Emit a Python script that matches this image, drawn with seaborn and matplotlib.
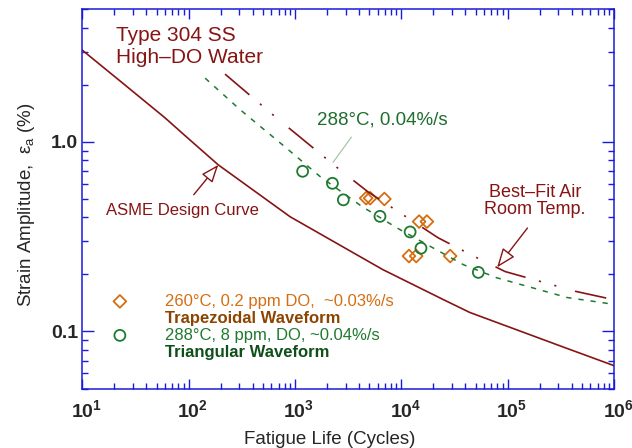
import matplotlib
matplotlib.use("Agg")
import matplotlib.pyplot as plt
import matplotlib.ticker as mticker
import matplotlib.transforms as mtransforms
from matplotlib.lines import Line2D
import seaborn as sns

# curves: fatigue life (cycles) vs strain amplitude (%)
asme_n = [10, 22.6, 60, 96, 190, 900, 6700, 25000, 44000, 3.1e5, 1e6]
asme_e = [3.05, 2.1, 1.34, 1.06, 0.757, 0.403, 0.212, 0.147, 0.126, 0.084, 0.066]

air_n = [220, 650, 2750, 4870, 12100, 22200, 51300, 94800, 4.31e5, 1e6]
air_e = [2.28, 1.36, 0.70, 0.545, 0.39, 0.312, 0.245, 0.207, 0.163, 0.147]

water_n = [143, 305, 773, 1722, 4250, 9080, 38400, 79000, 3.63e5, 1e6]
water_e = [2.17, 1.48, 0.96, 0.657, 0.457, 0.352, 0.225, 0.192, 0.151, 0.139]

# test data
trap_n = [4670, 5090, 6930, 14700, 17400, 11800, 13800, 28800]
trap_e = [0.505, 0.505, 0.50, 0.38, 0.38, 0.25, 0.25, 0.25]

tri_n = [1180, 2250, 2850, 6300, 12100, 15300, 53000]
tri_e = [0.70, 0.605, 0.495, 0.405, 0.335, 0.275, 0.205]

x_ticks = [1e1, 1e2, 1e3, 1e4, 1e5, 1e6]
x_labels = [r"$\mathbf{10^{%d}}$" % k for k in range(1, 7)]
y_ticks = [0.1, 1.0]
y_labels = ["0.1", "1.0"]

dred = "#861414"
green = "#1f7a30"
orange = "#d46e12"
blue = "#1a1adc"

sns.set_style("white")
plt.rcParams["font.family"] = ["Liberation Sans", "DejaVu Sans"]
plt.rcParams["mathtext.fontset"] = "custom"
plt.rcParams["mathtext.rm"] = "Liberation Sans"
plt.rcParams["mathtext.it"] = "Liberation Sans:italic"
plt.rcParams["mathtext.bf"] = "Liberation Sans:bold"
plt.rcParams["lines.scale_dashes"] = False

fig = plt.figure(figsize=(6.32, 4.48), dpi=100)
ax = fig.add_axes([82.3 / 632, 1 - 388.5 / 448, (614 - 82.3) / 632, (388.5 - 9.5) / 448])
ax.set_xscale("log")
ax.set_yscale("log")

sns.lineplot(x=asme_n, y=asme_e, color=dred, lw=1.2, errorbar=None, ax=ax)
sns.lineplot(x=air_n, y=air_e, color=dred, lw=1.2, errorbar=None, ax=ax,
             linestyle=(0, (23, 10, 1.5, 10, 1.5, 14)))
sns.lineplot(x=water_n, y=water_e, color=green, lw=1.1, errorbar=None, ax=ax,
             linestyle=(0, (3.8, 5)))

sns.scatterplot(x=trap_n, y=trap_e, marker="D", s=42, facecolors="none",
                edgecolor=orange, color=orange, linewidth=1.3, ax=ax,
                label="260°C, 0.2 ppm DO,  ~0.03%/s")
sns.scatterplot(x=tri_n, y=tri_e, marker="o", s=62, facecolors="none",
                edgecolor=green, color=green, linewidth=1.3, ax=ax,
                label="288°C, 8 ppm, DO, ~0.04%/s")

ax.set_xlim(10, 1e6)
ax.set_ylim(0.05, 5)

ax.xaxis.set_major_locator(mticker.FixedLocator(x_ticks))
ax.xaxis.set_major_formatter(mticker.FixedFormatter(x_labels))
ax.xaxis.set_minor_locator(mticker.LogLocator(base=10, subs=range(2, 10), numticks=20))
ax.xaxis.set_minor_formatter(mticker.NullFormatter())
ax.yaxis.set_major_locator(mticker.FixedLocator(y_ticks))
ax.yaxis.set_major_formatter(mticker.FixedFormatter(y_labels))
ax.yaxis.set_minor_locator(mticker.LogLocator(base=10, subs=range(2, 10), numticks=20))
ax.yaxis.set_minor_formatter(mticker.NullFormatter())

ax.tick_params(which="both", direction="in", bottom=True, left=True, top=True, right=True,
               color=blue, width=1.0)
ax.tick_params(axis="x", which="major", length=7)
ax.tick_params(axis="y", which="major", length=8.5)
ax.tick_params(which="minor", length=4.3)
ax.tick_params(axis="x", which="major", labelsize=14, pad=7.5)
ax.tick_params(axis="y", which="major", labelsize=14, pad=3)
for lab in ax.get_yticklabels():
    lab.set_fontweight("bold")
shift = mtransforms.ScaledTranslation(4 / 100, 0, fig.dpi_scale_trans)
for lab in ax.get_xticklabels():
    lab.set_transform(lab.get_transform() + shift)

for sp in ax.spines.values():
    sp.set_color(blue)
    sp.set_linewidth(1.1)

ax.set_xlabel("Fatigue Life (Cycles)", fontsize=13.5)
ax.xaxis.set_label_coords(0.466, -0.113)
ax.set_ylabel("Strain Amplitude,  ε$_{\\mathrm{a}}$ (%)", fontsize=13.5)
ax.yaxis.set_label_coords(-0.085, 0.484)

ax.text(0.063, 0.956, "Type 304 SS\nHigh–DO Water", transform=ax.transAxes,
        ha="left", va="top", fontsize=15, color=dred, linespacing=1.2)

ax.annotate("ASME Design Curve", xy=(190, 0.757), xytext=(86.7, 0.433),
            ha="center", va="center", fontsize=12, color=dred,
            arrowprops=dict(arrowstyle="-|>,head_length=0.9,head_width=0.35",
                            fc="white", ec=dred, lw=1.0, relpos=(0.53, 1.0),
                            shrinkA=5, shrinkB=0))
ax.annotate("Best–Fit Air\nRoom Temp.", xy=(79600, 0.218), xytext=(181000, 0.489),
            ha="center", va="center", multialignment="center", fontsize=13,
            color=dred, linespacing=1.05,
            arrowprops=dict(arrowstyle="-|>,head_length=0.9,head_width=0.35",
                            fc="white", ec=dred, lw=1.0, relpos=(0.5, 0.0),
                            shrinkA=6, shrinkB=0))
ax.annotate("288°C, 0.04%/s", xy=(2280, 0.78), xytext=(6670, 1.31),
            ha="center", va="center", fontsize=13.5, color="#1e6e2e",
            arrowprops=dict(arrowstyle="-", color="#9fbf9f", lw=0.8,
                            relpos=(0.31, 0.0), shrinkA=5, shrinkB=0))

handles, labels = ax.get_legend_handles_labels()
blank = Line2D([], [], linestyle="none")
leg = ax.legend([handles[0], blank, handles[1], blank],
                [labels[0], "Trapezoidal Waveform", labels[1], "Triangular Waveform"],
                loc="upper left", bbox_to_anchor=(0.055, 0.25), frameon=False,
                fontsize=12, handlelength=1.0, handletextpad=2.2,
                labelspacing=0.12, borderpad=0, borderaxespad=0)
txt_colors = [orange, "#8b4500", green, "#0f4f1a"]
for t, c, w in zip(leg.get_texts(), txt_colors, ["normal", "bold", "normal", "bold"]):
    t.set_color(c)
    t.set_fontweight(w)

fig.savefig("out.png", dpi=100)
